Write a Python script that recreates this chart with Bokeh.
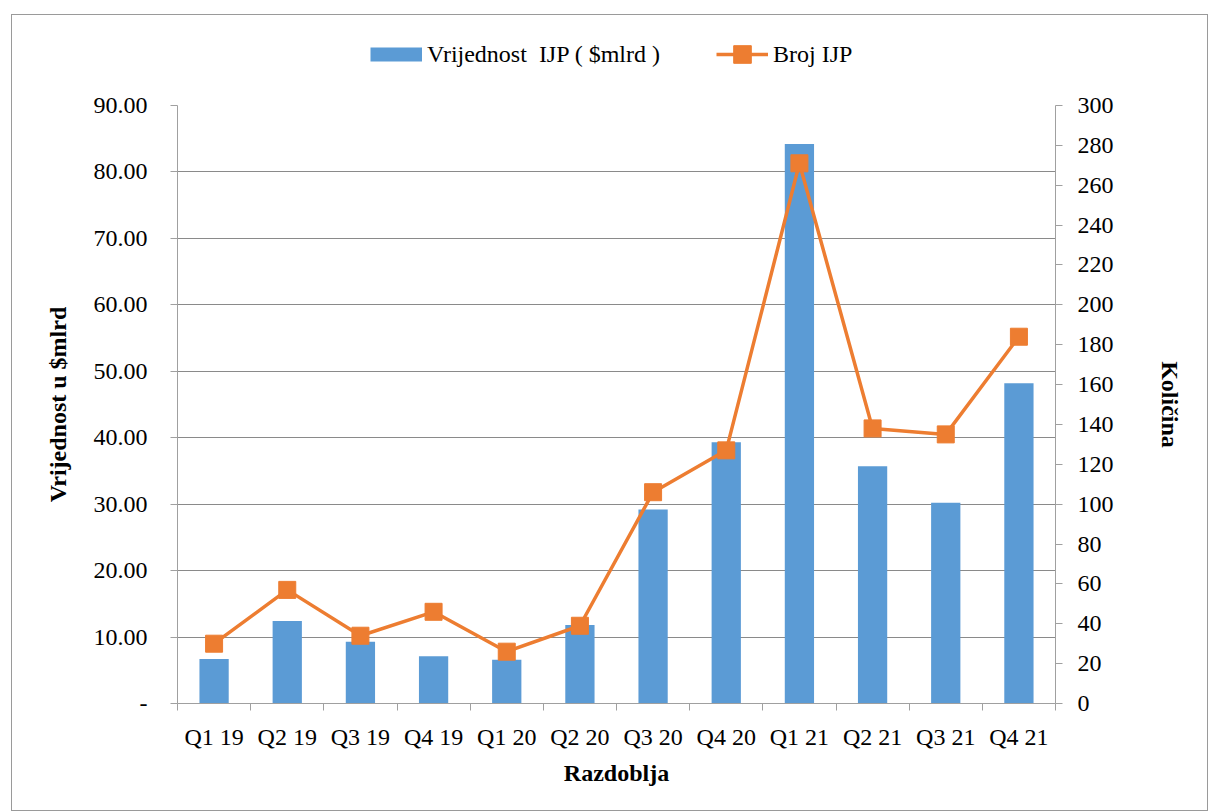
import math
from bokeh.plotting import figure
from bokeh.layouts import column
from bokeh.models import (Range1d, LinearAxis, FixedTicker, Legend, LegendItem,
                          ColumnDataSource)
from bokeh.embed import file_html
from bokeh.resources import INLINE

categories = ["Q1 19", "Q2 19", "Q3 19", "Q4 19", "Q1 20", "Q2 20",
              "Q3 20", "Q4 20", "Q1 21", "Q2 21", "Q3 21", "Q4 21"]
value_bn = [6.7, 12.4, 9.3, 7.1, 6.6, 11.8, 29.2, 39.3, 84.2, 35.7, 30.2, 48.2]
count_ipo = [30, 57, 34, 46, 26, 39, 106, 127, 271, 138, 135, 184]
left_ticks = [0, 10, 20, 30, 40, 50, 60, 70, 80, 90]
left_tick_labels = ["-", "10.00", "20.00", "30.00", "40.00", "50.00",
                    "60.00", "70.00", "80.00", "90.00"]
right_ticks = list(range(0, 301, 20))
series_names = ["Vrijednost  IJP ( $mlrd )", "Broj IJP"]

FONT = "Liberation Serif"
GRID = "#8a8a8a"
AXIS = "#a0a0a0"
BLUE = "#5B9BD5"
ORANGE = "#ED7D31"

OX, OY = 12, 15
W, H = 1195, 795
TH = 70            # legend strip height
MH = H - TH        # main chart height
FL, FR, FT, FB = 177, 1055, 105, 703   # plot frame edges on the page

# ---------- legend strip ----------
lg = figure(width=W, height=TH, output_backend="svg", toolbar_location=None,
            x_range=Range1d(0, 1), y_range=Range1d(0, 1),
            x_axis_location=None, y_axis_location=None,
            min_border_left=0, min_border_right=0, min_border_top=0, min_border_bottom=0)
lg.outline_line_color = None
lg.grid.visible = False
nan = [math.nan]
sw = lg.line(x=nan, y=nan, line_color=BLUE, line_width=14, line_cap="butt")
ll = lg.line(x=nan, y=nan, line_color=ORANGE, line_width=3.5)
lm = lg.scatter(x=nan, y=nan, marker="square", fill_color=ORANGE, line_color=ORANGE)
leg = Legend(items=[LegendItem(label=series_names[0], renderers=[sw]),
                    LegendItem(label=series_names[1], renderers=[ll, lm])],
             location=(193, 9), orientation="horizontal",
             glyph_width=52, glyph_height=44, label_height=20,
             label_standoff=5, spacing=56, padding=10,
             label_text_font=FONT, label_text_font_size="24px",
             label_text_color="black",
             border_line_color=None, background_fill_alpha=0)
lg.add_layout(leg, "center")

# ---------- main chart ----------
xpos = [i + 0.5 for i in range(len(categories))]
src = ColumnDataSource(dict(x=xpos, v=value_bn, c=count_ipo))

p = figure(width=W, height=MH, output_backend="svg", toolbar_location=None,
           x_range=Range1d(0, len(categories)), y_range=Range1d(0, 90),
           min_border_left=FL - OX, min_border_right=W - (FR - OX),
           min_border_top=FT - OY - TH, min_border_bottom=MH - (FB - OY - TH))
p.extra_y_ranges = {"right": Range1d(0, 300)}
p.outline_line_color = None
p.xgrid.visible = False
p.ygrid.grid_line_color = GRID
p.ygrid.grid_line_width = 1
p.ygrid.ticker = FixedTicker(ticks=left_ticks)

p.vbar(x="x", top="v", width=0.4, source=src, fill_color=BLUE, line_color=None)
p.line(x="x", y="c", source=src, line_color=ORANGE, line_width=3.5,
       y_range_name="right")
p.scatter(x="x", y="c", source=src, marker="square", size=17,
          fill_color=ORANGE, line_color=ORANGE, y_range_name="right")

# x axis
xa = p.xaxis[0]
xa.ticker = FixedTicker(ticks=xpos, minor_ticks=list(range(len(categories) + 1)))
xa.major_label_overrides = {x: c for x, c in zip(xpos, categories)}
xa.major_tick_out = 0
xa.major_tick_in = 0
xa.minor_tick_out = 7
xa.minor_tick_in = 0
xa.minor_tick_line_color = AXIS
xa.axis_line_color = AXIS
xa.major_label_standoff = 13
xa.major_label_text_font = FONT
xa.major_label_text_font_size = "24px"
xa.major_label_text_color = "black"
xa.axis_label = "Razdoblja"
xa.axis_label_text_font = FONT
xa.axis_label_text_font_style = "bold"
xa.axis_label_text_font_size = "24px"
xa.axis_label_text_color = "black"
xa.axis_label_standoff = 7

# left axis
ya = p.yaxis[0]
ya.ticker = FixedTicker(ticks=left_ticks)
ya.major_label_overrides = {t: l for t, l in zip(left_ticks, left_tick_labels)}
ya.major_tick_out = 7
ya.major_tick_in = 0
ya.minor_tick_line_color = None
ya.major_tick_line_color = AXIS
ya.axis_line_color = AXIS
ya.major_label_standoff = 23
ya.major_label_text_font = FONT
ya.major_label_text_font_size = "24px"
ya.major_label_text_color = "black"
ya.axis_label = "Vrijednost u $mlrd"
ya.axis_label_text_font = FONT
ya.axis_label_text_font_style = "bold"
ya.axis_label_text_font_size = "24px"
ya.axis_label_text_color = "black"
ya.axis_label_standoff = 20

# right axis
ra = LinearAxis(y_range_name="right", ticker=FixedTicker(ticks=right_ticks))
ra.major_tick_out = 7
ra.major_tick_in = 0
ra.minor_tick_line_color = None
ra.major_tick_line_color = AXIS
ra.axis_line_color = AXIS
ra.major_label_standoff = 15
ra.major_label_text_font = FONT
ra.major_label_text_font_size = "24px"
ra.major_label_text_color = "black"
ra.axis_label = "Količina"
ra.axis_label_text_font = FONT
ra.axis_label_text_font_style = "bold"
ra.axis_label_text_font_size = "24px"
ra.axis_label_text_color = "black"
ra.axis_label_standoff = 40
p.add_layout(ra, "right")

layout = column(lg, p, spacing=0)
layout.margin = (OY, 0, 0, OX)
layout.styles = {"outline": "1.5px solid #9a9a9a"}

open("out.html", "w").write(file_html(layout, INLINE))
